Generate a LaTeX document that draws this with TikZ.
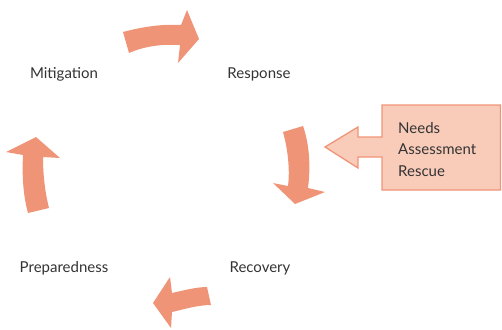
\documentclass[tikz,border=0pt]{standalone}
\usepackage{fontspec}
\setmainfont{Lato}
\usepackage{xcolor}
\definecolor{arrowfill}{HTML}{F09477}
\definecolor{calloutfill}{HTML}{F9CCBA}
\definecolor{labeltext}{HTML}{333333}
\tikzset{
  phase/.style      = { text=labeltext, font=\fontsize{15}{21.5}\selectfont },
  cyclearrow/.style = { fill=arrowfill, draw=none },
  notice/.style     = { fill=calloutfill, draw=arrowfill, line width=1.3pt },
  noticetext/.style = { phase, align=left, anchor=north west, inner sep=0pt }
}

\begin{document}
\begin{tikzpicture}[x=1pt,y=-1pt]
\useasboundingbox (0,0) rectangle (502,329);

% phases of the cycle
\node[phase] (mitigation)   at (64,74)  {Mitigation};
\node[phase] (response)     at (259,74) {Response};
\node[phase] (recovery)     at (260,268) {Recovery};
\node[phase] (preparedness) at (64,268) {Preparedness};

% cycle arrows
\fill[cyclearrow] (123,32) .. controls (145,26) and (165,24) .. (181,25)
  -- (187,10) -- (199,39) -- (178,63) -- (180,45)
  .. controls (162,44) and (145,46) .. (129,53) -- cycle;
\fill[cyclearrow] (283,132) .. controls (288,150) and (290,170) .. (288,186)
  -- (273,183) -- (295,204) -- (325,192) -- (308,188)
  .. controls (311,165) and (309,143) .. (303,126) -- cycle;
\fill[cyclearrow] (211,305) .. controls (198,305) and (185,309) .. (172,312)
  -- (171,328) -- (153,303) -- (170,277) -- (172,293)
  .. controls (185,290) and (197,287) .. (207,287) -- cycle;
\fill[cyclearrow] (28,213) .. controls (23,195) and (22,175) .. (23,155)
  -- (6,152) -- (36,137) -- (60,158) -- (43,157)
  .. controls (43,175) and (45,192) .. (49,208) -- cycle;

% callout
\draw[notice] (382,105) -- (500.5,105) -- (500.5,190) -- (382,190) -- (382,157)
  -- (358,157) -- (358,168) -- (325,147) -- (358,127) -- (358,137)
  -- (382,137) -- cycle;
\node[noticetext] (needs) at (398,122) {Needs\\Assessment\\Rescue};
\end{tikzpicture}
\end{document}
